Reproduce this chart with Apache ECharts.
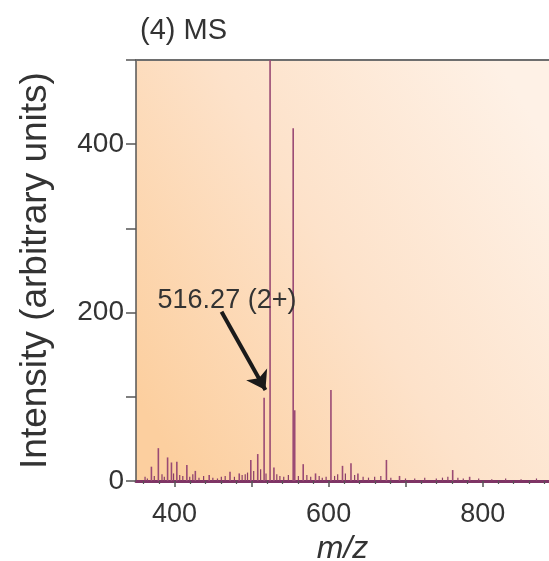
<!DOCTYPE html>
<html>
<head>
<meta charset="utf-8">
<script src="https://cdn.jsdelivr.net/npm/echarts@6/dist/echarts.min.js"></script>
<style>
  html, body { margin: 0; padding: 0; background: #fff; }
  #chart { width: 549px; height: 561px; }
</style>
</head>
<body>
<div id="chart"></div>
<script>
// peak list: [m/z, intensity]
const peaks = [
  [370, 17], [379, 39], [391, 28], [396, 22], [403, 23], [416, 19], [427, 12],
  [445, 7], [472, 11], [484, 9], [499, 25], [508, 32], [516.27, 99], [524, 560],
  [529, 16], [554, 419], [556, 84], [567, 20], [583, 9], [603, 108], [618, 18],
  [629, 21], [638, 9], [675, 25], [692, 6], [761, 13], [783, 5]
];
// small noise sticks along the baseline
const noise = [
  [362, 5], [365, 3], [374, 6], [384, 8], [387, 5], [399, 9], [407, 7], [411, 6],
  [420, 5], [424, 8], [432, 4], [438, 6], [450, 4], [456, 3], [461, 5], [466, 6],
  [478, 5], [488, 7], [492, 8], [495, 10], [503, 12], [512, 14], [519, 9], [533, 8],
  [537, 6], [542, 5], [548, 7], [561, 6], [572, 7], [577, 5], [588, 6], [592, 4],
  [597, 5], [608, 6], [612, 8], [622, 9], [634, 7], [645, 5], [652, 4], [660, 5],
  [668, 6], [681, 4], [700, 3], [712, 3], [725, 4], [740, 3], [748, 4], [755, 5],
  [768, 4], [775, 3], [795, 3], [812, 2], [830, 3], [850, 2], [870, 3]
];
const xMajorTicks = [400, 500, 600, 700, 800];
const xMinorTicks = [360, 380, 420, 440, 460, 480, 520, 540, 560, 580, 620, 640, 660, 680, 720, 740, 760, 780, 820, 840, 860, 880];
const xLabels = [400, 600, 800];
const yLabels = [0, 200, 400];
const annot = { text: '516.27 (2+)', at: [378, 214], from: [461, 201], to: [518, 108] };

const font = 'Liberation Sans';
const stick = '#9a4a74';

const chart = echarts.init(document.getElementById('chart'), null, { renderer: 'canvas' });

const xBase = {
  type: 'value', min: 350, max: 886, gridIndex: 0,
  splitLine: { show: false }
};

chart.setOption({
  backgroundColor: '#fff',
  animation: false,
  title: {
    text: '(4) MS', left: 135, top: 11,
    textStyle: { fontFamily: font, fontSize: 29, fontWeight: 'normal', color: '#333' }
  },
  grid: {
    left: 136, right: 0, top: 60, bottom: 80,
    outerBoundsMode: 'none',
    show: true, borderWidth: 0,
    backgroundColor: new echarts.graphic.LinearGradient(0, 0.8, 1, 0.2, [
      { offset: 0, color: '#fccf9f' },
      { offset: 0.5, color: '#fde2ca' },
      { offset: 1, color: '#fef1e6' }
    ])
  },
  xAxis: [
    Object.assign({}, xBase, {
      position: 'bottom',
      name: 'm/z', nameLocation: 'middle', nameGap: 50,
      nameTextStyle: { fontFamily: font, fontSize: 32, fontStyle: 'italic', color: '#333' },
      axisLine: { show: true, onZero: false, lineStyle: { color: '#7e3465', width: 3 } },
      axisTick: { show: true, customValues: xMajorTicks, length: 6, lineStyle: { color: '#555', width: 1.5 } },
      axisLabel: { customValues: xLabels, fontFamily: font, fontSize: 27, color: '#333', margin: 20 }
    }),
    Object.assign({}, xBase, {
      position: 'bottom',
      axisLine: { show: false },
      axisTick: { show: true, customValues: xMinorTicks, length: 3, lineStyle: { color: '#555', width: 1.2 } },
      axisLabel: { show: false }
    }),
    Object.assign({}, xBase, {
      position: 'top',
      axisLine: { show: true, lineStyle: { color: '#6e6e6e', width: 2 } },
      axisTick: { show: false },
      axisLabel: { show: false }
    })
  ],
  yAxis: {
    type: 'value', min: 0, max: 500, interval: 100,
    name: 'Intensity (arbitrary units)', nameLocation: 'middle', nameGap: 82,
    nameTextStyle: { fontFamily: font, fontSize: 37, color: '#333' },
    splitLine: { show: false },
    axisLine: { show: true, lineStyle: { color: '#555', width: 1.5 } },
    axisTick: { show: true, length: 10, lineStyle: { color: '#555', width: 1.5 } },
    axisLabel: {
      fontFamily: font, fontSize: 28, color: '#333', margin: 12,
      formatter: v => (yLabels.includes(v) ? String(v) : '')
    }
  },
  series: [
    {
      type: 'bar', xAxisIndex: 0, data: noise, barWidth: 1.2, clip: true,
      itemStyle: { color: '#8a3d68' }, silent: true
    },
    {
      type: 'bar', xAxisIndex: 0, data: peaks, barWidth: 1.6, barGap: '-100%', clip: true,
      itemStyle: { color: stick }, silent: true,
      markLine: {
        silent: true,
        symbol: ['none', 'arrow'], symbolSize: 18,
        lineStyle: { color: '#1a1a1a', width: 4, type: 'solid' },
        label: { show: false },
        data: [[{ coord: annot.from }, { coord: annot.to }]]
      },
      markPoint: {
        silent: true,
        symbol: 'circle', symbolSize: 0,
        label: {
          show: true, position: 'right', distance: 0,
          formatter: annot.text,
          fontFamily: font, fontSize: 27, color: '#333'
        },
        data: [{ coord: annot.at }]
      }
    }
  ]
});
</script>
</body>
</html>
